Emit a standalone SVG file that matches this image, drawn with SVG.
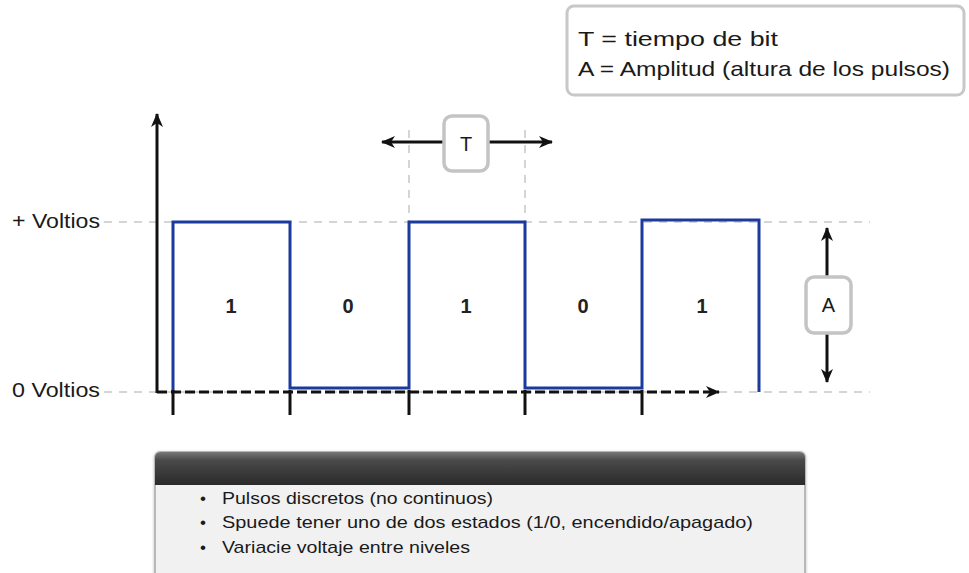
<svg xmlns="http://www.w3.org/2000/svg" width="969" height="573" viewBox="0 0 969 573">
<defs>
<style>
.t{font-family:"Liberation Sans",Arial,sans-serif;fill:#1a1a1a}
.guide{stroke:#c8c8c8;stroke-width:1.5;stroke-dasharray:8 7;fill:none}
.axis{stroke:#111;stroke-width:3;fill:none}
.tick{stroke:#111;stroke-width:3}
.lbl{fill:#fff;stroke:#c4c4c4;stroke-width:3.5}
.bit{font-family:"Liberation Sans",Arial,sans-serif;font-size:20px;font-weight:bold;fill:#222;text-anchor:middle}
</style>
<marker id="ah" viewBox="0 0 14 12" refX="13" refY="6" markerWidth="14" markerHeight="12" markerUnits="userSpaceOnUse" orient="auto-start-reverse">
<path d="M0,0 L14,6 L0,12 L4,6 z" fill="#111"/>
</marker>
<linearGradient id="hdr" x1="0" y1="0" x2="0" y2="1">
<stop offset="0" stop-color="#777"/>
<stop offset="0.25" stop-color="#4a4a4a"/>
<stop offset="1" stop-color="#2a2a2a"/>
</linearGradient>
<filter id="sh" x="-5%" y="-5%" width="110%" height="115%">
<feDropShadow dx="0" dy="1" stdDeviation="1.5" flood-color="#000" flood-opacity="0.25"/>
</filter>
</defs>
<rect width="969" height="573" fill="#fff"/>

<g id="legend">
<rect x="567" y="6" width="397" height="89" rx="7" fill="#fff" stroke="#c8c8c8" stroke-width="3"/>
<text class="t" x="578" y="46" font-size="21" textLength="200" lengthAdjust="spacingAndGlyphs">T = tiempo de bit</text>
<text class="t" x="578" y="76" font-size="21" textLength="372" lengthAdjust="spacingAndGlyphs">A = Amplitud (altura de los pulsos)</text>
</g>

<g id="guides">
<line class="guide" x1="104" y1="222" x2="870" y2="222"/>
<line class="guide" x1="104" y1="392" x2="870" y2="392"/>
<line class="guide" x1="409" y1="130" x2="409" y2="222"/>
<line class="guide" x1="525" y1="130" x2="525" y2="222"/>
</g>

<g id="ylabels">
<text class="t" x="12" y="228" font-size="20" textLength="88" lengthAdjust="spacingAndGlyphs">+ Voltios</text>
<text class="t" x="12" y="397" font-size="20" textLength="88" lengthAdjust="spacingAndGlyphs">0 Voltios</text>
</g>

<g id="signal">
<path d="M173,392 V222 H290 V388 H409 V222 H525 V388 H642 V220 H759 V392" fill="none" stroke="#1b3a9e" stroke-width="3"/>
</g>

<g id="connectors">
<line class="axis" x1="157" y1="393" x2="157" y2="114" marker-end="url(#ah)"/>
<line x1="157" y1="392" x2="719" y2="392" stroke="#111" stroke-width="3" stroke-dasharray="10 4" marker-end="url(#ah)"/>
<line class="tick" x1="173" y1="390" x2="173" y2="415"/>
<line class="tick" x1="290" y1="390" x2="290" y2="415"/>
<line class="tick" x1="409" y1="390" x2="409" y2="415"/>
<line class="tick" x1="525" y1="390" x2="525" y2="415"/>
<line class="tick" x1="642" y1="390" x2="642" y2="415"/>
<line class="axis" x1="444" y1="142" x2="382" y2="142" marker-end="url(#ah)"/>
<line class="axis" x1="488" y1="142" x2="552" y2="142" marker-end="url(#ah)"/>
<line class="axis" x1="827" y1="276" x2="827" y2="228" marker-end="url(#ah)"/>
<line class="axis" x1="827" y1="333" x2="827" y2="382" marker-end="url(#ah)"/>
</g>

<g id="bits">
<text class="bit" x="231" y="313">1</text>
<text class="bit" x="348" y="313">0</text>
<text class="bit" x="466" y="313">1</text>
<text class="bit" x="583" y="313">0</text>
<text class="bit" x="702" y="313">1</text>
</g>

<g id="T-label">
<rect class="lbl" x="444" y="116" width="44" height="55" rx="8"/>
<text class="t" x="466" y="151" font-size="20" text-anchor="middle">T</text>
</g>

<g id="A-label">
<rect class="lbl" x="806" y="277" width="45" height="56" rx="8"/>
<text class="t" x="828.5" y="312" font-size="20" text-anchor="middle">A</text>
</g>

<g id="info">
<rect x="155" y="452" width="650" height="130" rx="5" fill="#f1f1f1" stroke="#b8b8b8" stroke-width="2" filter="url(#sh)"/>
<path d="M155,485 V458 Q155,452 161,452 H799 Q805,452 805,458 V485 Z" fill="url(#hdr)"/>
<g class="t" font-size="17">
<text x="200" y="504">•</text>
<text x="222" y="504" textLength="271" lengthAdjust="spacingAndGlyphs">Pulsos discretos (no continuos)</text>
<text x="200" y="528">•</text>
<text x="222" y="528" textLength="531" lengthAdjust="spacingAndGlyphs">Spuede tener uno de dos estados (1/0, encendido/apagado)</text>
<text x="200" y="553">•</text>
<text x="222" y="553" textLength="248" lengthAdjust="spacingAndGlyphs">Variacie voltaje entre niveles</text>
</g>
</g>
</svg>
